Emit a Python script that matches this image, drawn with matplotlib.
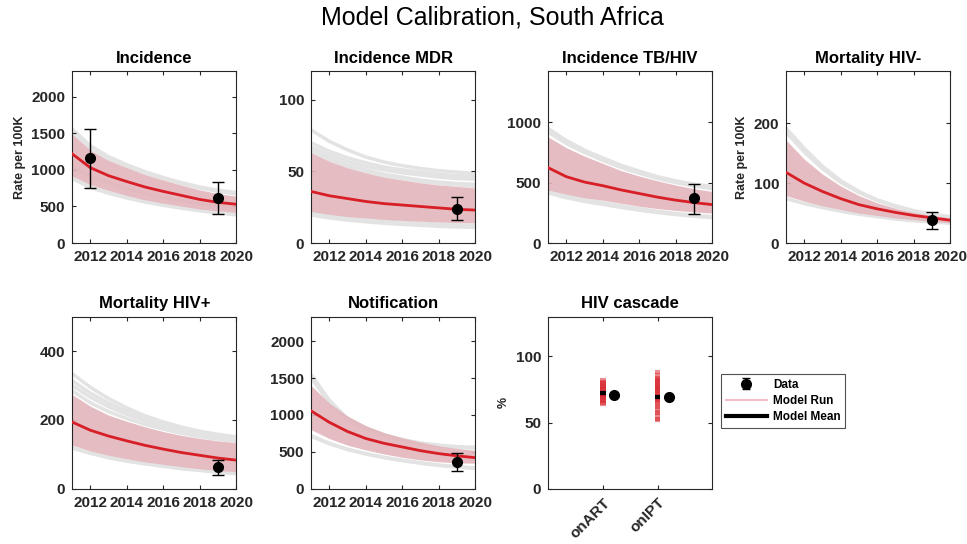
import numpy as np
import matplotlib
matplotlib.use("Agg")
import matplotlib.pyplot as plt
from matplotlib.lines import Line2D

plt.rcParams["font.family"] = ["Liberation Sans", "DejaVu Sans"]
plt.rcParams["font.weight"] = "bold"

# ── calibration outputs (per 100K), one value per year ──────────────────────
years = [2011, 2012, 2013, 2014, 2015, 2016, 2017, 2018, 2019, 2020]

inc_mean  = [1220, 1030, 920, 840, 765, 705, 650, 595, 555, 530]
inc_upper = [1490, 1270, 1130, 1030, 935, 860, 790, 725, 675, 640]
inc_lower = [920, 800, 720, 650, 590, 545, 505, 465, 440, 420]
inc_runs = [
    [1560, 1330, 1180, 1070, 975, 895, 825, 765, 720, 690],
    [1520, 1300, 1155, 1050, 955, 880, 810, 750, 705, 670],
    [1050, 910, 820, 745, 680, 625, 580, 535, 505, 480],
    [900, 775, 690, 625, 570, 525, 485, 450, 420, 395],
    [880, 760, 680, 615, 560, 515, 475, 440, 410, 385],
]

mdr_mean  = [36, 33, 31, 29, 27.5, 26.5, 25.5, 24.5, 23.5, 23]
mdr_upper = [63, 57, 52.5, 49, 46, 44, 42, 40.5, 39.5, 38.5]
mdr_lower = [22, 20, 18.5, 17.5, 16.5, 15.8, 15.2, 14.7, 14.3, 14]
mdr_runs = [
    [79, 71, 65, 60, 56.5, 54, 52, 50.5, 49.5, 48.5],
    [70, 64, 59.5, 56, 53, 51, 49.5, 48, 47, 46.5],
    [67, 61.5, 57, 53.5, 51, 49, 47.5, 46, 45, 44.5],
    [65, 59, 54.5, 51, 48, 46, 44, 42.5, 41.5, 41],
    [64, 58, 53.5, 50, 47, 45, 43, 41.5, 40.5, 39.5],
    [21, 19, 17.5, 16.3, 15.3, 14.5, 13.8, 13.2, 12.7, 12.3],
    [19.5, 17.5, 16, 14.8, 13.8, 13, 12.3, 11.7, 11.2, 10.9],
]

tbhiv_mean  = [625, 550, 505, 475, 440, 410, 380, 355, 335, 318]
tbhiv_upper = [880, 790, 720, 660, 600, 555, 515, 480, 450, 427]
tbhiv_lower = [440, 405, 375, 355, 330, 305, 285, 270, 258, 248]
tbhiv_runs = [
    [950, 850, 770, 705, 645, 595, 550, 515, 488, 468],
    [920, 825, 750, 685, 625, 578, 535, 500, 472, 450],
    [430, 390, 360, 335, 310, 285, 262, 245, 230, 218],
    [415, 375, 345, 320, 295, 272, 252, 236, 222, 210],
]

mneg_mean  = [118, 100, 86, 74, 64, 57, 51, 46, 42, 38]
mneg_upper = [172, 140, 115, 95, 79, 67, 58, 51, 46, 42]
mneg_lower = [79, 70, 62, 56, 50, 46, 42, 39, 36, 34]
mneg_runs = [
    [192, 158, 128, 104, 86, 72, 62, 54, 48, 44],
    [185, 152, 124, 101, 84, 71, 61, 53, 47, 43],
    [74, 66, 59, 53, 48, 44, 40, 37, 35, 33],
]

mpos_mean  = [194, 170, 153, 139, 126, 115, 105, 97, 89, 83]
mpos_upper = [274, 240, 214, 196, 180, 166, 155, 146, 139, 134]
mpos_lower = [127, 110, 97, 87, 78, 71, 64, 58, 53, 49]
mpos_runs = [
    [335, 295, 262, 235, 212, 194, 179, 167, 158, 151],
    [314, 278, 249, 225, 205, 188, 174, 162, 153, 146],
    [300, 266, 238, 216, 197, 181, 168, 157, 148, 141],
    [285, 250, 224, 204, 187, 173, 161, 151, 144, 138],
    [120, 104, 91, 81, 73, 66, 59, 54, 49, 45],
    [118, 103, 90, 80, 72, 65, 58, 53, 48, 43],
]

notif_mean  = [1055, 900, 775, 680, 615, 565, 515, 475, 445, 420]
notif_upper = [1400, 1160, 985, 855, 760, 690, 630, 580, 545, 520]
notif_lower = [800, 680, 590, 525, 470, 425, 390, 365, 350, 345]
notif_runs = [
    [1550, 1200, 950, 820, 730, 665, 620, 590, 570, 560],
    [1500, 1170, 930, 805, 718, 655, 610, 580, 560, 550],
    [720, 615, 535, 475, 425, 385, 350, 320, 298, 282],
    [710, 610, 530, 470, 420, 380, 345, 315, 292, 275],
]

# survey points: year, value, lower, upper
inc_data   = ([2012, 2019], [1160, 610], [750, 400], [1560, 830])
mdr_data   = ([2019], [24], [16], [32])
tbhiv_data = ([2019], [370], [240], [490])
mneg_data  = ([2019], [38], [24], [51])
mpos_data  = ([2019], [62], [40], [82])
notif_data = ([2019], [360], [240], [480])

# HIV cascade (%)
cascade_labels = ["onART", "onIPT"]
onart_runs = [64, 65, 66, 67, 68, 69, 70, 70.5, 71, 71.5, 72, 72.5, 73, 74, 75,
              76, 77, 78, 79, 80, 81, 82]
onipt_runs = [52, 53, 55, 57, 58, 60, 62, 63, 65, 66, 67, 68, 69, 70, 71, 72,
              73, 74, 75, 76, 77, 78, 79, 80, 81, 82, 83, 84, 86, 88]
cascade_mean = [72, 69.5]
cascade_data = [71, 69]
cascade_err = [1.2, 1.2]

RED = "#d81e26"
PINK = "#e2b5bb"
GREY = "#e3e3e3"
TXT = "#262626"

fig = plt.figure(figsize=(9.67, 5.44), dpi=100)

col_x = [0.0745, 0.3216, 0.5667, 0.8128]
row_y = [0.5533, 0.1017]
W, H = 0.170, 0.316


def style_axes(ax):
    ax.tick_params(direction="in", top=True, right=True, length=3,
                   labelsize=11, labelcolor=TXT, colors=TXT, pad=5)
    for lbl in ax.get_xticklabels() + ax.get_yticklabels():
        lbl.set_fontweight("bold")
    for s in ax.spines.values():
        s.set_color(TXT)
        s.set_linewidth(0.8)


def panel(pos, title, mean, upper, lower, runs, data, ymax, yticks, ylabel=None):
    ax = fig.add_axes([pos[0], pos[1], W, H])
    for r in runs:
        ax.plot(years, r, color=GREY, lw=2.5, zorder=1)
    ax.fill_between(years, lower, upper, color=PINK, alpha=0.9, lw=0, zorder=2)
    ax.plot(years, mean, color=RED, lw=2, zorder=3)
    x, v, lo, hi = data
    yerr = [np.subtract(v, lo), np.subtract(hi, v)]
    ax.errorbar(x, v, yerr=yerr, fmt="o", color="black", ms=7, capsize=4,
                elinewidth=1, capthick=1, zorder=4)
    ax.set_xlim(2011, 2020)
    ax.set_ylim(0, ymax)
    ax.set_xticks([2012, 2014, 2016, 2018, 2020])
    ax.set_yticks(yticks)
    ax.set_title(title, fontsize=12, fontweight="bold", pad=6)
    if ylabel:
        ax.set_ylabel(ylabel, fontsize=9, fontweight="bold", color=TXT, labelpad=4)
    style_axes(ax)
    return ax


panel((col_x[0], row_y[0]), "Incidence", inc_mean, inc_upper, inc_lower,
      inc_runs, inc_data, 2350, [0, 500, 1000, 1500, 2000], "Rate per 100K")
panel((col_x[1], row_y[0]), "Incidence MDR", mdr_mean, mdr_upper, mdr_lower,
      mdr_runs, mdr_data, 120, [0, 50, 100])
panel((col_x[2], row_y[0]), "Incidence TB/HIV", tbhiv_mean, tbhiv_upper,
      tbhiv_lower, tbhiv_runs, tbhiv_data, 1425, [0, 500, 1000])
panel((col_x[3], row_y[0]), "Mortality HIV-", mneg_mean, mneg_upper, mneg_lower,
      mneg_runs, mneg_data, 287, [0, 100, 200], "Rate per 100K")
panel((col_x[0], row_y[1]), "Mortality HIV+", mpos_mean, mpos_upper, mpos_lower,
      mpos_runs, mpos_data, 500, [0, 200, 400])
panel((col_x[1], row_y[1]), "Notification", notif_mean, notif_upper,
      notif_lower, notif_runs, notif_data, 2330, [0, 500, 1000, 1500, 2000])

# ── HIV cascade ────────────────────────────────────────────────────────────
ax = fig.add_axes([col_x[2], row_y[1], W, H])
data_handle = None
for i, runs in enumerate([onart_runs, onipt_runs]):
    ax.hlines(runs, i + 1 - 0.05, i + 1 + 0.05, color=RED, alpha=0.5, lw=3)
    ax.hlines(cascade_mean[i], i + 1 - 0.05, i + 1 + 0.05, color="black", lw=3)
    eb = ax.errorbar(i + 1.2, cascade_data[i], yerr=cascade_err[i], fmt="o",
                     color="black", ms=7, capsize=3, elinewidth=1)
    if data_handle is None:
        data_handle = eb
ax.set_xlim(0, 3)
ax.set_ylim(0, 130)
ax.set_yticks([0, 50, 100])
ax.set_xticks([1, 2])
ax.set_xticklabels(cascade_labels, rotation=45, ha="right",
                   rotation_mode="anchor")
ax.set_ylabel("%", fontsize=9, fontweight="bold", color=TXT)
ax.set_title("HIV cascade", fontsize=12, fontweight="bold", pad=6)
style_axes(ax)

handles = [
    data_handle,
    Line2D([], [], color="#f4bcc6", lw=1.5),
    Line2D([], [], color="black", lw=3),
]
leg = fig.legend(handles, ["Data", "Model Run", "Model Mean"],
                 loc="upper left", bbox_to_anchor=(721 / 967, 1 - 374 / 544),
                 fontsize=8.5, frameon=True, fancybox=False, edgecolor=TXT,
                 handlelength=3.5, borderpad=0.4, labelspacing=0.35,
                 handletextpad=0.5, borderaxespad=0)
leg.get_frame().set_linewidth(0.8)
for t in leg.get_texts():
    t.set_fontweight("bold")

fig.text(0.509, 0.967, "Model Calibration, South Africa", ha="center",
         va="center", fontsize=18, fontweight="normal")

fig.savefig("out.png", dpi=100)
